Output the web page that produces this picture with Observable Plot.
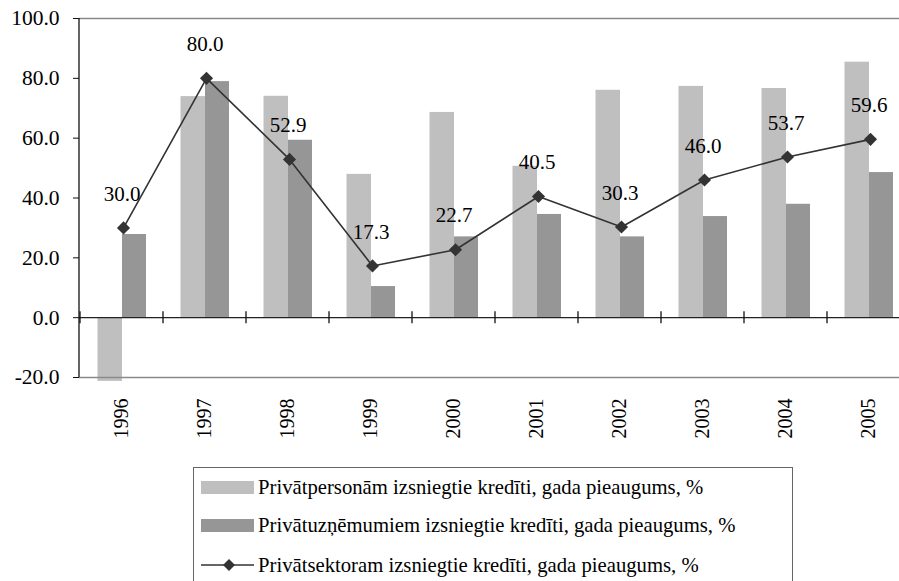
<!DOCTYPE html>
<html><head><meta charset="utf-8">
<script src="https://cdn.jsdelivr.net/npm/d3@7"></script>
<script src="https://cdn.jsdelivr.net/npm/@observablehq/plot@0.6"></script>
<style>
html,body{margin:0;padding:0;background:#fff}
body{width:899px;height:581px;overflow:hidden;position:relative;font-family:'Liberation Serif',serif}
#chart{position:absolute;left:0;top:0}
#legend{position:absolute;left:193px;top:467px;width:600px;height:150px;box-sizing:border-box;border:1px solid #666;background:#fff}
.row{position:absolute;left:7px;height:30px;display:flex;align-items:center;font-size:20.7px;color:#000;white-space:nowrap}
.sw{width:53px;height:13px;margin-right:4px;flex:none}
.sw svg{display:block}
</style>
</head><body>
<div id="chart"></div>
<div id="legend"></div>
<script>
const years = ["1996","1997","1998","1999","2000","2001","2002","2003","2004","2005"];
const persons = [-21.3, 73.9, 74.0, 47.9, 68.6, 50.6, 76.0, 77.3, 76.6, 85.4];
const companies = [27.8, 78.9, 59.3, 10.4, 27.0, 34.5, 27.0, 33.8, 37.9, 48.5];
const sector = [30.0, 80.0, 52.9, 17.3, 22.7, 40.5, 30.3, 46.0, 53.7, 59.6];
const yTicks = [-20, 0, 20, 40, 60, 80, 100];
const seriesNames = [
  "Privātpersonām izsniegtie kredīti, gada pieaugums, %",
  "Privātuzņēmumiem izsniegtie kredīti, gada pieaugums, %",
  "Privātsektoram izsniegtie kredīti, gada pieaugums, %"
];
const colors = ["#bfbfbf", "#969696", "#333333"];

const rows = years.map((year, i) => ({year, persons: persons[i], companies: companies[i], sector: sector[i]}));

const H = 460;
const chart = Plot.plot({
  width: 899,
  height: H,
  marginTop: 18,
  marginLeft: 79,
  marginRight: 0,
  marginBottom: H - 377,
  x: {domain: years, range: [79, 910], padding: 0},
  y: {domain: [-20, 100]},
  style: {fontFamily: "Liberation Serif", color: "#000", background: "#fff", overflow: "visible"},
  marks: [
    Plot.barY(rows, {x: "year", y: "persons", fill: colors[0], insetLeft: 17.5, insetRight: 41}),
    Plot.barY(rows, {x: "year", y: "companies", fill: colors[1], insetLeft: 42, insetRight: 17}),
    Plot.ruleY([100, -20], {stroke: "#8a8a8a", strokeWidth: 1.5}),
    Plot.ruleY([0], {stroke: "#222", strokeWidth: 1.3}),
    (index, scales) => {
      const {x, y} = scales;
      const g = d3.create("svg:g").attr("stroke", "#111").attr("stroke-width", 1.3);
      g.append("line").attr("x1", 79).attr("x2", 79).attr("y1", y(100)).attr("y2", y(-20));
      for (const yr of years) {
        g.append("line").attr("x1", x(yr)).attr("x2", x(yr)).attr("y1", y(0) - 6).attr("y2", y(0) + 6);
      }
      return g.node();
    },
    Plot.axisY({ticks: yTicks, tickFormat: d => d.toFixed(1), tickSize: 6, tickPadding: 14, fontSize: 21.5, label: null, stroke: "#111"}),
    Plot.axisX({tickSize: 0, tickPadding: 21, tickRotate: -90, fontSize: 20, label: null}),
    Plot.lineY(rows, {x: "year", y: "sector", stroke: colors[2], strokeWidth: 1.6, dx: 1.5}),
    Plot.dot(rows, {x: "year", y: "sector", symbol: "diamond2", r: 5.9, fill: colors[2], stroke: "none", dx: 1.5}),
    Plot.text(rows, {x: "year", y: "sector", text: d => d.sector.toFixed(1), dy: -34, fontSize: 21, fill: "#000"})
  ]
});
document.getElementById("chart").appendChild(chart);

const legend = document.getElementById("legend");
const rowTops = [4, 42, 82];
seriesNames.forEach((name, i) => {
  const r = document.createElement("div");
  r.className = "row";
  r.style.top = rowTops[i] + "px";
  const sw = document.createElement("div");
  sw.className = "sw";
  if (i < 2) {
    sw.style.background = colors[i];
  } else {
    sw.style.height = "14px";
    sw.innerHTML = '<svg width="53" height="14"><line x1="0" x2="53" y1="7" y2="7" stroke="' + colors[2] + '" stroke-width="1.6"/><path d="M28,1 L34,7 L28,13 L22,7 Z" fill="' + colors[2] + '"/></svg>';
  }
  const t = document.createElement("span");
  t.textContent = name;
  r.appendChild(sw);
  r.appendChild(t);
  legend.appendChild(r);
});
</script>
</body></html>
